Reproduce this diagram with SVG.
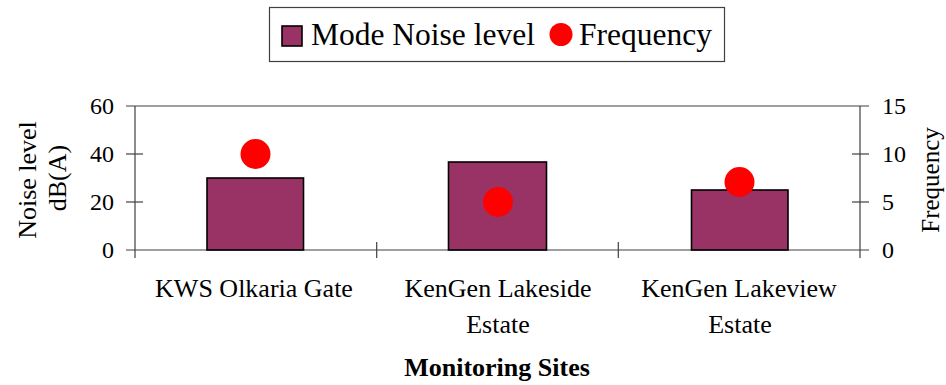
<svg xmlns="http://www.w3.org/2000/svg" width="946" height="385" viewBox="0 0 946 385">
<style>
text{font-family:"Liberation Serif","Times New Roman",serif;fill:#000}
.lbl{font-size:26px}
.tk{font-size:24px}
.leg{font-size:31.5px}
.ax{stroke:#404040;stroke-width:1.2;fill:none}
.bar{fill:#993366;stroke:#000;stroke-width:1.6}
.dot{fill:#ff0000}
</style>
<rect width="946" height="385" fill="#fff"/>
<g id="legend">
<rect x="269.5" y="7.5" width="455" height="54" fill="#fff" stroke="#404040" stroke-width="1.2"/>
<rect x="282" y="26" width="20" height="20" class="bar"/>
<text x="311" y="44.5" class="leg">Mode Noise level</text>
<circle cx="561" cy="34.5" r="11.5" class="dot"/>
<text x="579" y="44.5" class="leg">Frequency</text>
</g>
<g id="axes">
<line class="ax" x1="126" y1="106" x2="869" y2="106"/>
<line class="ax" x1="126" y1="250" x2="869" y2="250"/>
<line class="ax" x1="135" y1="106" x2="135" y2="258"/>
<line class="ax" x1="860" y1="106" x2="860" y2="258"/>
<line class="ax" x1="126" y1="154" x2="143" y2="154"/>
<line class="ax" x1="126" y1="202" x2="143" y2="202"/>
<line class="ax" x1="852" y1="154" x2="869" y2="154"/>
<line class="ax" x1="852" y1="202" x2="869" y2="202"/>
<line class="ax" x1="376.7" y1="242" x2="376.7" y2="258"/>
<line class="ax" x1="618.3" y1="242" x2="618.3" y2="258"/>
<text x="114" y="114" class="tk" text-anchor="end">60</text>
<text x="114" y="162" class="tk" text-anchor="end">40</text>
<text x="114" y="210" class="tk" text-anchor="end">20</text>
<text x="114" y="258" class="tk" text-anchor="end">0</text>
<text x="882" y="114" class="tk">15</text>
<text x="882" y="162" class="tk">10</text>
<text x="882" y="210" class="tk">5</text>
<text x="882" y="258" class="tk">0</text>
<text transform="translate(36 180) rotate(-90)" class="lbl" text-anchor="middle">Noise level</text>
<text transform="translate(66 178) rotate(-90)" class="lbl" text-anchor="middle">dB(A)</text>
<text transform="translate(939 180) rotate(-90)" class="lbl" text-anchor="middle" style="font-size:25px">Frequency</text>
</g>
<g id="bars">
<rect id="bar1" class="bar" x="207" y="178" width="96.5" height="72"/>
<rect id="bar2" class="bar" x="448.5" y="162" width="98" height="88"/>
<rect id="bar3" class="bar" x="691.5" y="190" width="96.5" height="60"/>
</g>
<g id="points">
<circle cx="255.5" cy="154" r="15" class="dot"/>
<circle cx="498" cy="202" r="15" class="dot"/>
<circle cx="739.5" cy="182" r="15" class="dot"/>
</g>
<g id="labels">
<text x="254" y="297" class="lbl" text-anchor="middle">KWS Olkaria Gate</text>
<text x="498" y="297" class="lbl" text-anchor="middle">KenGen Lakeside</text>
<text x="498" y="333" class="lbl" text-anchor="middle">Estate</text>
<text x="739" y="297" class="lbl" text-anchor="middle">KenGen Lakeview</text>
<text x="740" y="333" class="lbl" text-anchor="middle">Estate</text>
<text x="497" y="376" class="lbl" text-anchor="middle" font-weight="bold">Monitoring Sites</text>
</g>
</svg>
